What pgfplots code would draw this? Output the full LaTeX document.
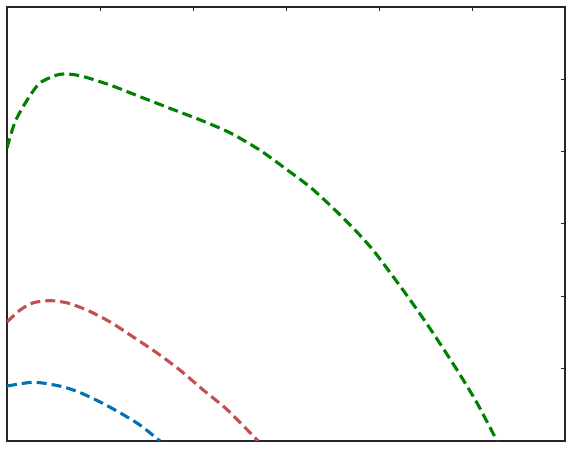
\documentclass[border=0pt]{standalone}
\usepackage{pgfplots}
\pgfplotsset{compat=1.18}
\definecolor{cgreen}{RGB}{0,128,0}
\definecolor{cred}{RGB}{196,78,82}
\definecolor{cblue}{RGB}{0,114,178}
\begin{document}
\begin{tikzpicture}
  \begin{axis}[
    scale only axis,
    width=558pt, height=434pt,
    xmin=0, xmax=6, ymin=0, ymax=6,
    xtick={1,2,3,4,5}, ytick={1,2,3,4,5},
    xticklabels={}, yticklabels={},
    xtick pos=right, ytick pos=right,
    tick align=inside,
    major tick length=4pt,
    every tick/.style={black!85, line width=1pt},
    axis line style={black!85, line width=1.2pt},
    clip=true,
    every axis plot/.append style={line width=3.1pt, dash pattern=on 10pt off 5pt, smooth, tension=0.45},
  ]
    \addplot[cgreen] coordinates {
      (0,4.05) (0.086,4.41) (0.215,4.71) (0.355,4.95) (0.57,5.07) (0.785,5.05)
      (1.11,4.92) (1.43,4.76) (1.75,4.60) (2.075,4.44) (2.40,4.26) (2.72,4.02)
      (2.99,3.77) (3.26,3.51) (3.505,3.221) (3.742,2.917) (3.935,2.641)
      (4.151,2.274) (4.366,1.894) (4.581,1.493) (4.839,0.982) (5.054,0.525) (5.269,0)
    };
    \addplot[cred] coordinates {
      (0,1.645) (0.14,1.81) (0.28,1.91) (0.46,1.94) (0.645,1.91) (0.86,1.81)
      (1.11,1.645) (1.355,1.44) (1.61,1.22) (1.86,0.98) (2.11,0.705) (2.37,0.43) (2.70,0)
    };
    \addplot[cblue] coordinates {
      (0,0.76) (0.25,0.81) (0.39,0.80) (0.60,0.75) (0.785,0.67) (1.0,0.54)
      (1.215,0.39) (1.43,0.22) (1.645,0)
    };
  \end{axis}
  \path (current axis.south west) ++(-7pt,-8pt) coordinate (bl);
  \path (current axis.north east) ++(7pt,7pt) coordinate (tr);
  \useasboundingbox (bl) rectangle (tr);
\end{tikzpicture}
\end{document}
